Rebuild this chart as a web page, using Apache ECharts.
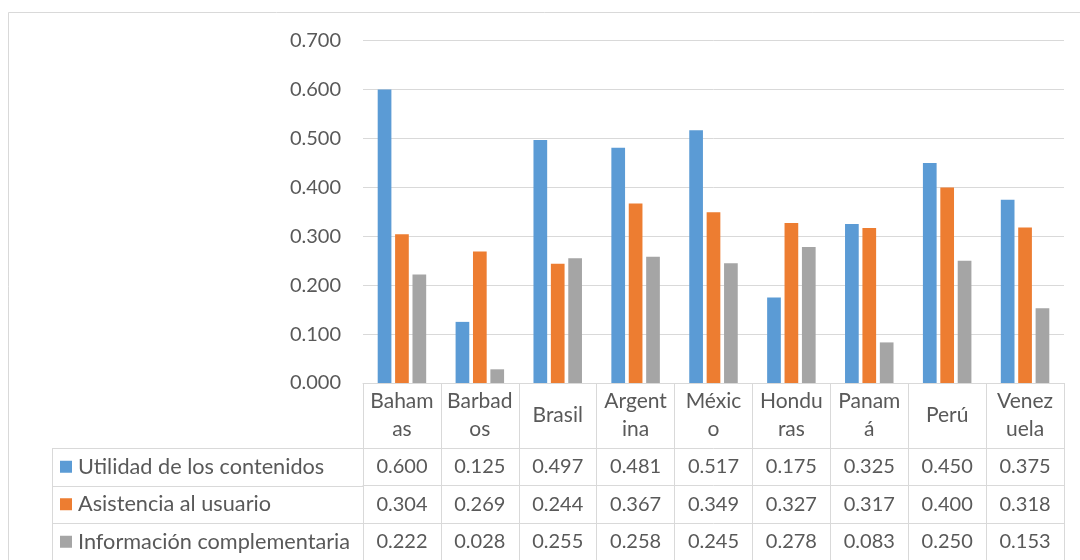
<!DOCTYPE html>
<html>
<head>
<meta charset="utf-8">
<script src="https://cdn.jsdelivr.net/npm/echarts@6/dist/echarts.min.js"></script>
<style>
  html, body { margin: 0; padding: 0; background: #ffffff; }
  #chart { width: 1080px; height: 560px; }
</style>
</head>
<body>
<div id="chart"></div>
<script>
// ---- Data ----
const categories = ['Bahamas', 'Barbados', 'Brasil', 'Argentina', 'México', 'Honduras', 'Panamá', 'Perú', 'Venezuela'];
const categoryLabels = ['Baham\nas', 'Barbad\nos', 'Brasil', 'Argent\nina', 'Méxic\no', 'Hondu\nras', 'Panam\ná', 'Perú', 'Venez\nuela'];
const seriesNames = ['Utilidad de los contenidos', 'Asistencia al usuario', 'Información complementaria'];
const utilidad = [0.600, 0.125, 0.497, 0.481, 0.517, 0.175, 0.325, 0.450, 0.375];
const asistencia = [0.304, 0.269, 0.244, 0.367, 0.349, 0.327, 0.317, 0.400, 0.318];
const informacion = [0.222, 0.028, 0.255, 0.258, 0.245, 0.278, 0.083, 0.250, 0.153];
const yTicks = { min: 0, max: 0.7, interval: 0.1 };

// ---- Style ----
const colors = ['#5B9BD5', '#ED7D31', '#A5A5A5'];
const textColor = '#595959';
const lineColor = '#D9D9D9';
const fontFamily = 'Lato, "Open Sans", sans-serif';
const fontSize = 20;

const gridLeft = 363, gridRight = 1064, gridTop = 40.7, gridBottomY = 383;
const headerBottom = 448;
const rowTops = [448, 485.5, 523];
const rowH = 37.5;
const seriesData = [utilidad, asistencia, informacion];

const chart = echarts.init(document.getElementById('chart'), null, { renderer: 'canvas' });

const xAxes = [{
  type: 'category',
  data: categories,
  position: 'bottom',
  gridIndex: 0,
  boundaryGap: true,
  axisLine: { show: true, lineStyle: { color: lineColor, width: 1 } },
  axisTick: { show: true, interval: 0, length: 560 - gridBottomY, lineStyle: { color: lineColor, width: 1 } },
  axisLabel: {
    interval: 0,
    color: textColor, fontFamily: fontFamily, fontSize: 21,
    lineHeight: 28,
    verticalAlign: 'middle',
    align: 'center',
    margin: (headerBottom - gridBottomY) / 2,
    formatter: (v, i) => categoryLabels[i]
  },
  splitLine: { show: false }
}];
seriesData.forEach((arr, k) => {
  xAxes.push({
    type: 'category',
    data: categories,
    position: 'bottom',
    gridIndex: 0,
    offset: rowTops[k] - gridBottomY,
    axisLine: { show: true, lineStyle: { color: lineColor, width: 1 } },
    axisTick: { show: false },
    axisLabel: {
      interval: 0,
      color: textColor, fontFamily: fontFamily, fontSize: fontSize,
      verticalAlign: 'middle',
      align: 'center',
      margin: rowH / 2,
      formatter: (v, i) => arr[i].toFixed(3)
    },
    splitLine: { show: false }
  });
});

const legends = seriesNames.map((name, k) => ({
  data: [name],
  orient: 'horizontal',
  left: 60,
  top: rowTops[k] + rowH / 2 - 11,
  padding: 0,
  itemWidth: 12,
  itemHeight: 12,
  icon: 'rect',
  selectedMode: false,
  textStyle: { color: textColor, fontFamily: fontFamily, fontSize: 21.7, lineHeight: 22, padding: [0, 0, 0, 1] }
}));

const tableGraphics = [];
// left column frame of the data table
[rowTops[0], rowTops[1], rowTops[2]].forEach(y => {
  tableGraphics.push({
    type: 'line', silent: true,
    shape: { x1: 52.5, y1: Math.round(y) + 0.5, x2: gridLeft, y2: Math.round(y) + 0.5 },
    style: { stroke: lineColor, lineWidth: 1 }
  });
});
tableGraphics.push({
  type: 'line', silent: true,
  shape: { x1: 52.5, y1: rowTops[0], x2: 52.5, y2: 560 },
  style: { stroke: lineColor, lineWidth: 1 }
});
// chart area border
tableGraphics.push({
  type: 'rect', silent: true,
  shape: { x: 8.5, y: 12.5, width: 1200, height: 700 },
  style: { fill: 'none', stroke: lineColor, lineWidth: 1 }
});

const option = {
  backgroundColor: '#ffffff',
  animation: false,
  color: colors,
  textStyle: { fontFamily: fontFamily },
  legend: legends,
  grid: {
    left: gridLeft,
    right: 1080 - gridRight,
    top: gridTop,
    bottom: 560 - gridBottomY,
    containLabel: false
  },
  xAxis: xAxes,
  yAxis: {
    type: 'value',
    min: yTicks.min,
    max: yTicks.max,
    interval: yTicks.interval,
    axisLine: { show: false },
    axisTick: { show: false },
    axisLabel: {
      color: textColor, fontFamily: fontFamily, fontSize: fontSize,
      margin: 22,
      formatter: v => v.toFixed(3)
    },
    splitLine: { show: true, lineStyle: { color: lineColor, width: 1 } }
  },
  series: seriesNames.map((name, k) => ({
    name: name,
    type: 'bar',
    xAxisIndex: 0,
    data: seriesData[k],
    barWidth: 13.7,
    barGap: '27%',
    itemStyle: { color: colors[k] }
  })),
  graphic: tableGraphics
};

chart.setOption(option);
</script>
</body>
</html>
